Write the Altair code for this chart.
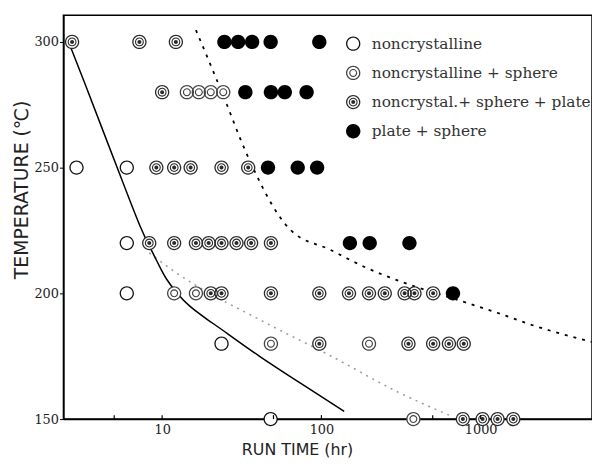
import altair as alt
import pandas as pd

TYPES = ["noncrystalline", "noncrystalline + sphere",
         "noncrystal.+ sphere + plate", "plate + sphere"]

# noncrystalline (open circles)
NC_TIME = [2.9, 6.0, 6.0, 6.0, 23.6, 48.0]
NC_TEMP = [250, 250, 220, 200, 180, 150]

# noncrystalline + sphere
NCS_TIME = [14.3, 17.0, 20.2, 24.2, 11.9, 16.3, 48.2, 199, 378]
NCS_TEMP = [280, 280, 280, 280, 200, 200, 180, 180, 150]

# noncrystal. + sphere + plate
NCSP_TIME = [2.72, 7.2, 12.2,
             10.0,
             9.2, 11.9, 15.1, 23.6, 34.7,
             8.3, 11.9, 16.3, 19.6, 23.6, 29.3, 36.2, 48.2,
             20.2, 23.6, 48.2, 97, 149, 199, 250, 333, 384, 503,
             97, 352, 503, 632, 783,
             773, 1028, 1277, 1603]
NCSP_TEMP = [300, 300, 300,
             280,
             250, 250, 250, 250, 250,
             220, 220, 220, 220, 220, 220, 220, 220,
             200, 200, 200, 200, 200, 200, 200, 200, 200, 200,
             180, 180, 180, 180, 180,
             150, 150, 150, 150]

# plate + sphere (filled)
PS_TIME = [24.6, 30.0, 36.7, 48.0, 97,
           33.3, 48.2, 58.9, 80.7,
           46.2, 71, 94,
           151, 201, 357,
           670]
PS_TEMP = [300, 300, 300, 300, 300,
           280, 280, 280, 280,
           250, 250, 250,
           220, 220, 220,
           200]

# boundary curves
SOLID_TIME = [2.55, 3.24, 4.26, 5.61, 7.51, 8.55, 9.58, 10.6, 12.4, 14.7, 19.0, 25, 40, 71, 139]
SOLID_TEMP = [301, 284.2, 264.5, 244.9, 224.0, 217.3, 211.0, 205.5, 200.0, 194.9, 189.8, 184.6, 175.2, 165, 153.1]

DASH_TIME = [16.3, 25, 33.3, 64, 114, 185, 328, 700, 1240, 2200, 4970]
DASH_TEMP = [304.7, 276.4, 256.7, 225.2, 217.3, 210.6, 204.3, 197.6, 192.5, 187, 180.7]

DOT_TIME = [8.3, 11.5, 44.3, 114, 297, 632]
DOT_TEMP = [216.1, 209.4, 188.4, 175.2, 161, 151.6]

X_TICKS = [5, 10, 50, 100, 500, 1000]
X_LABELS = [10, 100, 1000]
Y_TICKS = [150, 200, 250, 300]

rows = []
for t, xs_, ys_ in [(TYPES[0], NC_TIME, NC_TEMP), (TYPES[1], NCS_TIME, NCS_TEMP),
                    (TYPES[2], NCSP_TIME, NCSP_TEMP), (TYPES[3], PS_TIME, PS_TEMP)]:
    for a, b in zip(xs_, ys_):
        rows.append({"time": a, "temp": b, "type": t})
pts = pd.DataFrame(rows)

lines = pd.DataFrame(
    [{"time": a, "temp": b, "curve": "solid", "i": i} for i, (a, b) in enumerate(zip(SOLID_TIME, SOLID_TEMP))]
    + [{"time": a, "temp": b, "curve": "dash", "i": i} for i, (a, b) in enumerate(zip(DASH_TIME, DASH_TEMP))]
    + [{"time": a, "temp": b, "curve": "dot", "i": i} for i, (a, b) in enumerate(zip(DOT_TIME, DOT_TEMP))]
)


def circ(r, cw=True):
    s = 1 if cw else 0
    return (f"M{-r},0A{r},{r} 0 1,{s} {r},0A{r},{r} 0 1,{s} {-r},0Z")


def ring(ro, ri):
    return circ(ro, True) + " " + circ(ri, False)


SHAPES = [
    ring(1, 0.82),
    ring(1, 0.82) + " " + ring(0.56, 0.4),
    ring(1, 0.82) + " " + ring(0.62, 0.47) + " " + circ(0.28, True),
    circ(1, True),
]
COLORS = ["#111111", "#444444", "#2a2a2a", "#000000"]

W, H = 534, 408
FONT = "DejaVu Serif"
TFONT = "DejaVu Sans"

xs = alt.Scale(type="log", domain=[2.4, 5000])
ys = alt.Scale(domain=[150, 310.6])

x_enc = alt.X("time:Q", scale=xs, axis=alt.Axis(
    values=X_LABELS, ticks=False, grid=False, format="d",
    labelFont=FONT, labelFontSize=13, labelColor="#222", labelPadding=5,
    title="RUN TIME (hr)", titleFont=TFONT, titleFontSize=16,
    titleFontWeight="normal", titleColor="#222",
    titleX=236, titleY=35.5, titleBaseline="alphabetic", titleAlign="center",
    domainColor="black", domainWidth=1.5))
y_enc = alt.Y("temp:Q", scale=ys, axis=alt.Axis(
    values=Y_TICKS, grid=False, tickSize=4, tickColor="black",
    labelFont=FONT, labelFontSize=13, labelColor="#222", labelPadding=1,
    title="TEMPERATURE (\u2103)", titleFont=TFONT, titleFontSize=19,
    titleFontWeight="normal", titleColor="#222",
    titleX=-42, titleY=176, titleBaseline="middle", titleAlign="center", titleAngle=-90,
    domainColor="black", domainWidth=1.5))

LEG = alt.Legend(title=None, orient="none", legendX=285, legendY=21,
                 padding=0, rowPadding=12.5, labelOffset=11,
                 symbolSize=210, symbolStrokeWidth=0, symbolOpacity=1,
                 labelFont=FONT, labelFontSize=15.5, labelColor="#333",
                 labelLimit=300)

base_line = alt.Chart(lines)
solid = base_line.transform_filter("datum.curve == 'solid'").mark_line(
    color="black", strokeWidth=1.5, interpolate="basis", clip=True
).encode(x=x_enc, y=y_enc, order="i:Q")
dash = base_line.transform_filter("datum.curve == 'dash'").mark_line(
    color="black", strokeWidth=1.8, strokeDash=[3, 6], interpolate="monotone", clip=True
).encode(x=x_enc, y=y_enc, order="i:Q")
dot = base_line.transform_filter("datum.curve == 'dot'").mark_line(
    color="#9a9a9a", strokeWidth=1.5, strokeDash=[2, 5], interpolate="monotone", clip=True
).encode(x=x_enc, y=y_enc, order="i:Q")

backdrop = alt.Chart(pts).mark_circle(color="white", size=165, opacity=1).encode(x=x_enc, y=y_enc)

points = alt.Chart(pts).mark_point(filled=True, size=210, strokeWidth=0, opacity=1).encode(
    x=x_enc, y=y_enc,
    shape=alt.Shape("type:N", scale=alt.Scale(domain=TYPES, range=SHAPES), legend=LEG),
    color=alt.Color("type:N", scale=alt.Scale(domain=TYPES, range=COLORS), legend=LEG),
)

ticks = alt.Chart(pd.DataFrame({"t": X_TICKS})).mark_rule(color="black", strokeWidth=1.2).encode(
    x=alt.X("t:Q", scale=xs), y=alt.value(H), y2=alt.value(H - 4))

chart = alt.layer(dot, dash, solid, backdrop, points, ticks).properties(
    width=W, height=H,
    background="white",
    autosize=alt.AutoSizeParams(type="none"),
    padding={"left": 56, "top": 5, "right": 0, "bottom": 37},
).configure_view(stroke="black", strokeWidth=1.5)

chart.save("out.html", embed_options={"renderer": "svg", "actions": False})
